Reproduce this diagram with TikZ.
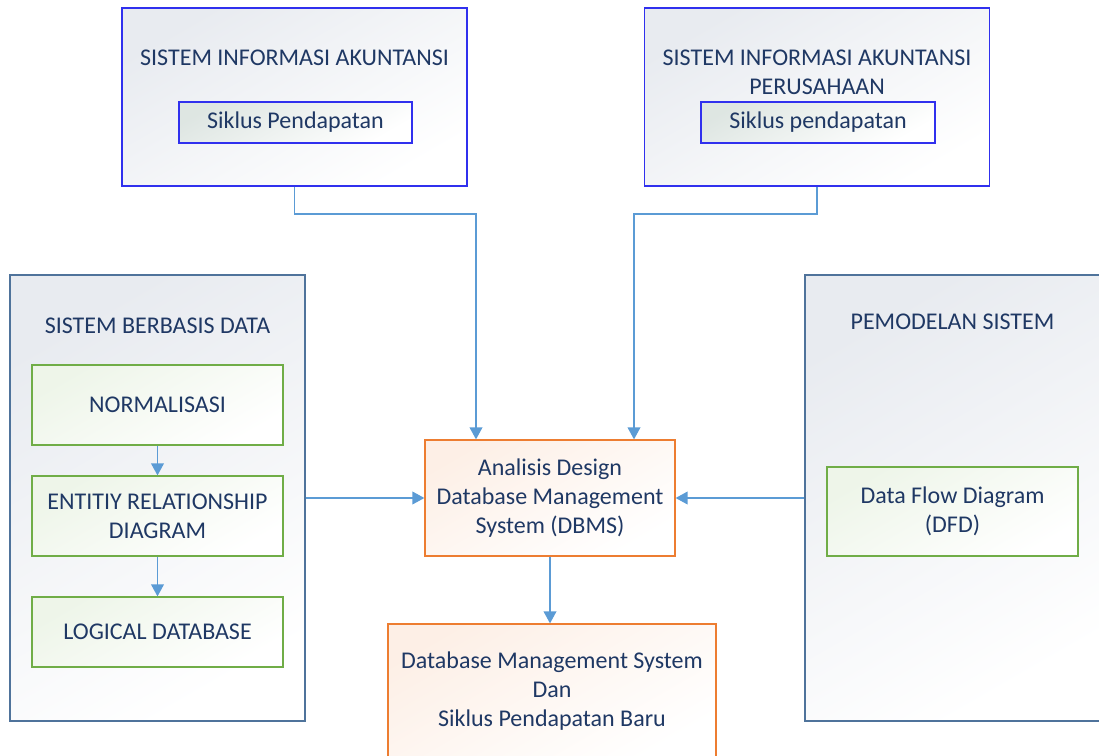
\documentclass[tikz,border=0pt]{standalone}
\usepackage{fontspec}
\setmainfont{Carlito}
\usetikzlibrary{arrows.meta,calc}
\definecolor{siablue}{HTML}{3030EE}
\definecolor{slate}{HTML}{4F739B}
\definecolor{leaf}{HTML}{70AD47}
\definecolor{rust}{HTML}{ED7D31}
\definecolor{flow}{HTML}{5B9BD5}
\definecolor{ink}{HTML}{1F3864}
\definecolor{mist}{HTML}{E8EBF0}
\newlength\pxu
\setlength\pxu{0.75pt}

\begin{document}
\begin{tikzpicture}[x=0.75pt,y=-0.75pt,
  every node/.style={font=\fontsize{18}{21.75}\selectfont, text=ink, align=center, inner sep=0pt},
  title/.style={},
  sia/.style={draw=siablue, line width=1.1pt, top color=mist, bottom color=white, shading angle=30,
    minimum width=345\pxu, minimum height=178\pxu},
  sub/.style={draw=siablue, line width=1pt, top color=leaf!8!mist, bottom color=white, shading angle=30,
    minimum width=233\pxu, minimum height=41\pxu},
  group/.style={draw=slate, line width=0.9pt, top color=mist, bottom color=white, shading angle=30,
    minimum width=295\pxu, minimum height=446\pxu},
  greenbox/.style={draw=leaf, line width=0.9pt, top color=leaf!12, bottom color=white, shading angle=30,
    minimum width=251\pxu, minimum height=80\pxu},
  orangebox/.style={draw=rust, line width=0.9pt, top color=rust!12, bottom color=white, shading angle=30},
  arr/.style={draw=flow, line width=1.2pt, -{Triangle[length=9pt,width=9.5pt]}}]

\useasboundingbox (0,0) rectangle (1099,756);

% top boxes
\node[sia] (sia) at (294.5,97) {};
\node[title] (siaT) at (294.5,58) {SISTEM INFORMASI AKUNTANSI};
\node[sub] (siaS) at (295.5,122.5) {Siklus Pendapatan};

\node[sia] (siap) at (817,97) {};
\node[title] (siapT) at (817,72.5) {SISTEM INFORMASI AKUNTANSI\\PERUSAHAAN};
\node[sub, minimum width=234\pxu] (siapS) at (818,122.5) {Siklus pendapatan};

% left group
\node[group] (sbd) at (157.5,498) {};
\node[title] (sbdT) at (157.5,326) {SISTEM BERBASIS DATA};
\node[greenbox] (norm) at (157.5,405) {NORMALISASI};
\node[greenbox] (erd) at (157.5,516) {ENTITIY RELATIONSHIP\\DIAGRAM};
\node[greenbox, minimum height=70\pxu] (logic) at (157.5,632) {LOGICAL DATABASE};

% right group
\node[group] (pem) at (952.5,498) {};
\node[title] (pemT) at (952.5,322) {PEMODELAN SISTEM};
\node[greenbox, minimum height=89\pxu] (dfd) at (952.5,511.5) {Data Flow Diagram\\(DFD)};

% centre
\node[orangebox, minimum width=250\pxu, minimum height=116\pxu] (dbms) at (550,498)
  {Analisis Design\\Database Management\\System (DBMS)};
\node[orangebox, minimum width=328\pxu, minimum height=135\pxu] (baru) at (552,691.5)
  {Database Management System\\Dan\\Siklus Pendapatan Baru};

% connectors
\draw[arr] (sia.south) -- ++(0,27) -| ($(dbms.north)+(-74,0)$);
\draw[arr] (siap.south) -- ++(0,27) -| ($(dbms.north)+(84,0)$);
\draw[arr] (sbd.east) -- (dbms.west);
\draw[arr] (pem.west) -- (dbms.east);
\draw[arr] (dbms.south) -- (dbms.south |- baru.north);
\draw[arr] (norm) -- (erd);
\draw[arr] (erd) -- (logic);
\end{tikzpicture}
\end{document}
